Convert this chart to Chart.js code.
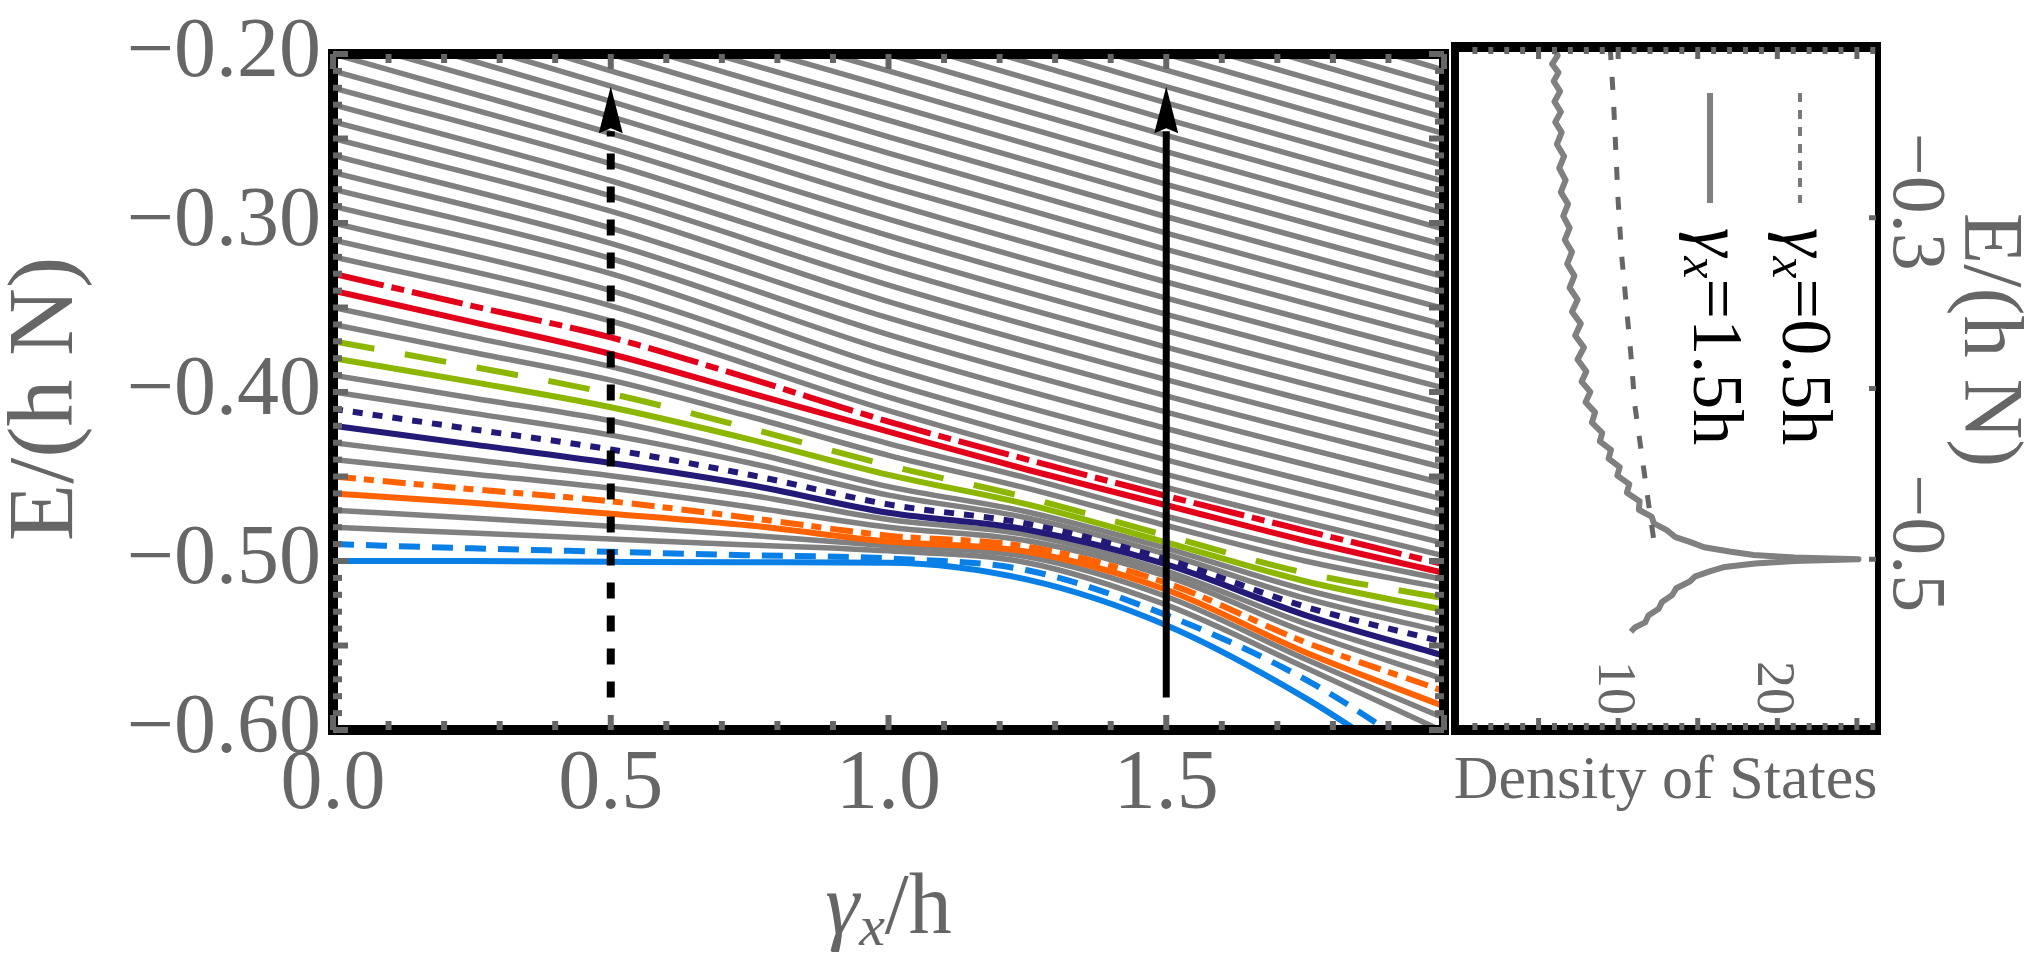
<!DOCTYPE html>
<html>
<head>
<meta charset="utf-8">
<script src="https://cdn.jsdelivr.net/npm/chart.js@4.4.1/dist/chart.umd.min.js"></script>
<style>
  html, body { margin: 0; padding: 0; background: #fff; }
  #wrap { position: relative; width: 2033px; height: 958px; }
  #wrap canvas { position: absolute; left: 0; top: 0; }
</style>
</head>
<body>
<div id="wrap">
  <canvas id="spectrum" width="2033" height="958"></canvas>
  <canvas id="dos" width="2033" height="958"></canvas>
</div>
<script>
// ---- data: spectrum E/(hN) vs gamma_x/h ----
const gammaFine = [0, 0.25, 0.5, 0.75, 1, 1.25, 1.5, 1.75, 2];
const gammaCoarse = [0, 0.5, 1, 1.5, 2];

// highlighted levels (on gammaFine)
const blueSolid     = [-0.500, -0.500, -0.5005, -0.5008, -0.501, -0.511, -0.538, -0.581, -0.635];
const blueDashed    = [-0.490, -0.4925, -0.4946, -0.4966, -0.4985, -0.5055, -0.532, -0.570, -0.622];
const orangeSolid   = [-0.460, -0.4655, -0.472, -0.479, -0.4885, -0.4945, -0.517, -0.554, -0.586];
const orangeDashDot = [-0.450, -0.4575, -0.4647, -0.4745, -0.485, -0.4915, -0.513, -0.548, -0.577];
const navySolid     = [-0.420, -0.431, -0.442, -0.455, -0.4715, -0.4815, -0.502, -0.532, -0.556];
const navyDotted    = [-0.410, -0.422, -0.434, -0.449, -0.4665, -0.478, -0.499, -0.527, -0.548];
const greenSolid    = [-0.380, -0.394, -0.409, -0.428, -0.449, -0.4665, -0.489, -0.512, -0.529];
const greenDashed   = [-0.370, -0.385, -0.401, -0.4215, -0.4435, -0.4625, -0.485, -0.507, -0.522];
const redSolid      = [-0.340, -0.3585, -0.3775, -0.4005, -0.4235, -0.446, -0.467, -0.488, -0.507];
const redDashDot    = [-0.330, -0.349, -0.3677, -0.392, -0.4175, -0.440, -0.4615, -0.482, -0.502];

// other low levels in grey (on gammaFine)
const grayLow = [
  [-0.480, -0.4835, -0.487, -0.4905, -0.494, -0.501, -0.526, -0.563, -0.601],
  [-0.470, -0.4745, -0.4795, -0.4848, -0.491, -0.4975, -0.521, -0.558, -0.593],
  [-0.440, -0.4485, -0.457, -0.468, -0.480, -0.488, -0.509, -0.542, -0.570],
  [-0.430, -0.440, -0.4495, -0.461, -0.4755, -0.4845, -0.506, -0.537, -0.563],
  [-0.400, -0.4125, -0.4255, -0.442, -0.461, -0.4745, -0.496, -0.522, -0.542],
  [-0.390, -0.4035, -0.417, -0.4355, -0.456, -0.471, -0.4925, -0.517, -0.536],
  [-0.360, -0.3765, -0.393, -0.4145, -0.4375, -0.457, -0.479, -0.500, -0.516],
  [-0.350, -0.3675, -0.385, -0.4075, -0.4305, -0.451, -0.4735, -0.494, -0.511]
];

// upper grey levels, one array per gamma of gammaCoarse
const upperG0 = [-0.32, -0.31, -0.30, -0.29, -0.28, -0.27, -0.26, -0.25, -0.24, -0.23, -0.22, -0.21, -0.20,
  -0.19, -0.18, -0.17, -0.16, -0.15, -0.14, -0.13, -0.12, -0.11, -0.10, -0.09, -0.08, -0.07, -0.06, -0.05,
  -0.04, -0.03, -0.02, -0.01, 0.00];
const upperG05 = [-0.358, -0.349, -0.340, -0.330, -0.321, -0.312, -0.303, -0.293, -0.284, -0.275, -0.265,
  -0.256, -0.247, -0.237, -0.228, -0.219, -0.210, -0.200, -0.191, -0.182, -0.172, -0.163, -0.154, -0.144,
  -0.135, -0.126, -0.117, -0.107, -0.098, -0.089, -0.079, -0.070, -0.061];
const upperG1 = [-0.411, -0.403, -0.3945, -0.3855, -0.3757, -0.366, -0.3562, -0.3465, -0.3367, -0.327, -0.3172,
  -0.3075, -0.2977, -0.288, -0.2782, -0.2685, -0.2587, -0.249, -0.2392, -0.2295, -0.2197, -0.21, -0.2002,
  -0.1905, -0.181, -0.171, -0.161, -0.151, -0.141, -0.131, -0.121, -0.111, -0.101];
const upperG15 = [-0.4565, -0.4487, -0.4402, -0.4312, -0.4216, -0.4119, -0.4023, -0.3927, -0.383, -0.3734,
  -0.3638, -0.3541, -0.3445, -0.3349, -0.3252, -0.3156, -0.306, -0.2963, -0.2867, -0.2771, -0.2674, -0.2578,
  -0.2482, -0.2385, -0.2289, -0.2193, -0.2096, -0.2, -0.190, -0.180, -0.171, -0.161, -0.151];
const upperG2 = [-0.497, -0.4895, -0.4815, -0.473, -0.4636, -0.4542, -0.4448, -0.4354, -0.426, -0.4165, -0.4071,
  -0.3977, -0.3883, -0.3789, -0.3695, -0.3601, -0.3507, -0.3413, -0.3318, -0.3224, -0.313, -0.3036, -0.2942,
  -0.2848, -0.2754, -0.266, -0.2566, -0.2471, -0.2377, -0.2283, -0.2189, -0.2095, -0.2001];

// arrows at gamma = 0.5 (dashed) and 1.5 (solid)
const arrowGammas = [0.5, 1.5];
const arrowFromE = -0.5807, arrowBaseE = -0.2445, arrowTipE = -0.2193;

// ---- data: density of states (E, DOS) ----
const dosE05 = [-0.200, -0.230, -0.260, -0.290, -0.320, -0.350, -0.380, -0.410, -0.440, -0.470, -0.4925];
const dos05  = [9.5, 9.7, 9.85, 10.0, 10.2, 10.5, 10.8, 11.05, 11.5, 11.95, 12.3];

const dosE15 = [-0.200, -0.205, -0.210, -0.215, -0.220, -0.226, -0.232, -0.238, -0.244, -0.250, -0.257, -0.264,
  -0.271, -0.278, -0.285, -0.292, -0.299, -0.306, -0.313, -0.320, -0.327, -0.334, -0.341, -0.348, -0.355,
  -0.362, -0.369, -0.376, -0.383, -0.390, -0.396, -0.402, -0.408, -0.414, -0.420, -0.426, -0.431, -0.436,
  -0.441, -0.446, -0.451, -0.456, -0.461, -0.466, -0.471, -0.475, -0.479, -0.483, -0.487, -0.490, -0.493,
  -0.4955, -0.4975, -0.499, -0.500, -0.501, -0.5025, -0.5045, -0.507, -0.510, -0.513, -0.517, -0.521,
  -0.525, -0.529, -0.533, -0.537, -0.540, -0.5425];
const dos15 = [5.90, 6.20, 5.85, 6.25, 5.95, 6.35, 6.00, 6.40, 6.05, 6.45, 6.15, 6.60, 6.30, 6.70, 6.40, 6.85,
  6.55, 6.95, 6.65, 7.10, 6.80, 7.25, 6.95, 7.45, 7.10, 7.65, 7.30, 7.85, 7.45, 8.00, 7.70, 8.25, 7.95, 8.55,
  8.35, 9.00, 8.85, 9.55, 9.40, 10.10, 9.95, 10.70, 10.55, 11.35, 11.30, 12.10, 12.25, 13.05, 13.60, 14.55,
  15.40, 17.00, 18.50, 21.10, 25.10, 21.10, 18.60, 16.70, 15.80, 14.85, 14.50, 13.65, 13.40, 12.75, 12.55,
  11.90, 11.70, 11.05, 10.80];

const dosTickLabels = [10, 20];
const dosEnergyLabels = [-0.3, -0.5];

// ---- styles ----
const SERIF = '"Liberation Serif", "Times New Roman", serif';
const GREY_TEXT = '#666666';
const highlights = [
  { values: redDashDot,    color: '#e2001a', dash: [52, 8, 13, 8] },
  { values: redSolid,      color: '#e2001a', dash: [] },
  { values: greenDashed,   color: '#8db600', dash: [42, 31] },
  { values: greenSolid,    color: '#8db600', dash: [] },
  { values: navyDotted,    color: '#231a78', dash: [10, 10] },
  { values: navySolid,     color: '#231a78', dash: [] },
  { values: orangeDashDot, color: '#ff6200', dash: [23, 8, 10, 9] },
  { values: orangeSolid,   color: '#ff6200', dash: [] },
  { values: blueDashed,    color: '#0a80e6', dash: [21, 12] },
  { values: blueSolid,     color: '#0a80e6', dash: [] }
];

function series(xs, ys) {
  return xs.map((g, i) => ({ x: g, y: ys[i] }));
}

function lineSet(data, color, dash, width, order) {
  return {
    data: data,
    borderColor: color,
    borderDash: dash,
    borderWidth: width,
    borderCapStyle: 'butt',
    pointRadius: 0,
    fill: false,
    cubicInterpolationMode: 'monotone',
    order: order
  };
}

const spectrumSets = [];
highlights.forEach(h => spectrumSets.push(lineSet(series(gammaFine, h.values), h.color, h.dash, 6, 0)));
grayLow.forEach(v => spectrumSets.push(lineSet(series(gammaFine, v), '#808080', [], 5.5, 1)));
upperG0.forEach((_, k) => {
  const ys = [upperG0[k], upperG05[k], upperG1[k], upperG15[k], upperG2[k]];
  spectrumSets.push(lineSet(series(gammaCoarse, ys), '#808080', [], 5.5, 1));
});

function strokeLine(ctx, x1, y1, x2, y2) {
  ctx.beginPath();
  ctx.moveTo(x1, y1);
  ctx.lineTo(x2, y2);
  ctx.stroke();
}

// draws text made of several styled pieces along the current x direction
function drawPieces(ctx, pieces, x, y, align) {
  let total = 0;
  pieces.forEach(p => { ctx.font = p.font; total += ctx.measureText(p.text).width; });
  let cx = align === 'center' ? x - total / 2 : x;
  ctx.textAlign = 'left';
  pieces.forEach(p => {
    ctx.font = p.font;
    ctx.fillText(p.text, cx, y + (p.dy || 0));
    cx += ctx.measureText(p.text).width;
  });
}

function drawArrow(ctx, px, yFrom, yBase, yTip, width, dash) {
  ctx.strokeStyle = '#000';
  ctx.lineWidth = width;
  ctx.setLineDash(dash);
  strokeLine(ctx, px, yFrom, px, yBase + 2);
  ctx.setLineDash([]);
  ctx.fillStyle = '#000';
  ctx.beginPath();
  ctx.moveTo(px, yTip);
  ctx.lineTo(px - 12, yBase + 4);
  ctx.lineTo(px, yBase - 1);
  ctx.lineTo(px + 12, yBase + 4);
  ctx.closePath();
  ctx.fill();
}

const spectrumDecor = {
  id: 'spectrumDecor',
  afterDatasetsDraw(chart) {
    const { ctx, chartArea: a, scales: { x, y } } = chart;
    ctx.save();
    // frame
    ctx.strokeStyle = '#000';
    ctx.lineWidth = 10;
    ctx.strokeRect(a.left, a.top, a.right - a.left, a.bottom - a.top);
    // inward ticks
    ctx.strokeStyle = '#666';
    ctx.lineWidth = 6;
    for (let i = 0; i <= 20; i++) {
      const px = x.getPixelForValue(i / 10);
      const len = i % 5 === 0 ? 15 : 9;
      strokeLine(ctx, px, a.top, px, a.top + len);
      strokeLine(ctx, px, a.bottom, px, a.bottom - len);
    }
    for (let i = 20; i <= 60; i++) {
      const py = y.getPixelForValue(-i / 100);
      const len = i % 5 === 0 ? 15 : 9;
      strokeLine(ctx, a.left, py, a.left + len, py);
      strokeLine(ctx, a.right, py, a.right - len, py);
    }
    // arrows
    arrowGammas.forEach((g, i) => {
      const px = x.getPixelForValue(g);
      drawArrow(ctx, px, y.getPixelForValue(arrowFromE), y.getPixelForValue(arrowBaseE),
        y.getPixelForValue(arrowTipE), i === 0 ? 8 : 7, i === 0 ? [16, 17] : []);
    });
    ctx.restore();
  },
  afterDraw(chart) {
    const { ctx, chartArea: a } = chart;
    ctx.save();
    ctx.fillStyle = GREY_TEXT;
    ctx.textBaseline = 'alphabetic';
    // x title
    drawPieces(ctx, [
      { text: 'γ', font: 'italic 86px ' + SERIF },
      { text: 'x', font: 'italic 58px ' + SERIF, dy: 12 },
      { text: '/h', font: '86px ' + SERIF }
    ], (a.left + a.right) / 2, a.bottom + 203, 'center');
    // y title
    ctx.translate(a.left - 261, (a.top + a.bottom) / 2 + 7);
    ctx.rotate(-Math.PI / 2);
    ctx.font = '94px ' + SERIF;
    ctx.textAlign = 'center';
    ctx.fillText('E/(h N)', 0, 0);
    ctx.restore();
  }
};

new Chart(document.getElementById('spectrum'), {
  type: 'line',
  data: { datasets: spectrumSets },
  options: {
    responsive: false,
    animation: false,
    events: [],
    layout: { padding: { left: 0, top: 47, right: 589, bottom: 0 } },
    plugins: { legend: { display: false }, tooltip: { enabled: false } },
    scales: {
      x: {
        type: 'linear',
        min: 0,
        max: 2,
        afterFit: s => { s.height = 228; },
        grid: { display: false, drawTicks: false },
        border: { display: false },
        ticks: {
          stepSize: 0.5,
          padding: 14,
          color: GREY_TEXT,
          font: { family: SERIF, size: 84, lineHeight: 1 },
          callback: v => (v < 1.99 ? v.toFixed(1) : '')
        }
      },
      y: {
        type: 'linear',
        min: -0.6,
        max: -0.2,
        afterFit: s => { s.width = 333; },
        grid: { display: false, drawTicks: false },
        border: { display: false },
        ticks: {
          stepSize: 0.1,
          padding: 12,
          color: GREY_TEXT,
          font: { family: SERIF, size: 84, lineHeight: 1 },
          callback: v => '\u2212' + Math.abs(v).toFixed(2)
        }
      }
    }
  },
  plugins: [spectrumDecor]
});

// ---- density of states panel ----
const dosDecor = {
  id: 'dosDecor',
  afterDatasetsDraw(chart) {
    const { ctx, chartArea: a, scales: { x, y } } = chart;
    ctx.save();
    // frame
    ctx.fillStyle = '#000';
    ctx.fillRect(a.left - 4, a.top - 5, a.right - a.left + 9, 10);
    ctx.fillRect(a.left - 4, a.bottom - 5, a.right - a.left + 9, 10);
    ctx.fillRect(a.left - 4, a.top - 5, 8, a.bottom - a.top + 10);
    ctx.fillRect(a.right - 1, a.top - 5, 6, a.bottom - a.top + 10);
    // ticks along top and bottom
    ctx.strokeStyle = '#666';
    ctx.lineWidth = 5;
    for (let d = 1; d <= 26; d++) {
      const px = x.getPixelForValue(d);
      const len = d % 5 === 0 ? 12 : 7;
      strokeLine(ctx, px, a.top, px, a.top + len);
      strokeLine(ctx, px, a.bottom, px, a.bottom - len);
    }
    for (let i = 3; i <= 5; i++) {
      const py = y.getPixelForValue(-i / 10);
      strokeLine(ctx, a.right, py, a.right - 7, py);
    }
    // rotated tick labels
    ctx.fillStyle = GREY_TEXT;
    ctx.textBaseline = 'alphabetic';
    ctx.textAlign = 'center';
    dosTickLabels.forEach(v => {
      ctx.save();
      ctx.translate(x.getPixelForValue(v) - 19, a.bottom - 42);
      ctx.rotate(Math.PI / 2);
      ctx.font = '54px ' + SERIF;
      ctx.fillText(String(v), 0, 0);
      ctx.restore();
    });
    dosEnergyLabels.forEach(v => {
      ctx.save();
      ctx.translate(a.right + 18, y.getPixelForValue(v) - 16);
      ctx.rotate(Math.PI / 2);
      ctx.font = '76px ' + SERIF;
      ctx.fillText('\u2212' + Math.abs(v).toFixed(1), 0, 0);
      ctx.restore();
    });
    // right axis title
    ctx.save();
    ctx.translate(a.right + 89, 340);
    ctx.rotate(Math.PI / 2);
    ctx.font = '84px ' + SERIF;
    ctx.fillText('E/(h N)', 0, 0);
    ctx.restore();
    // bottom title
    ctx.font = '62px ' + SERIF;
    ctx.fillText('Density of States', (a.left + a.right) / 2, a.bottom + 68);
    // legend (rotated)
    const legend = [
      { value: '0.5', lineX: a.left + 345, textX: a.left + 328, dash: [9, 8], color: '#7a7a7a', width: 4 },
      { value: '1.5', lineX: a.left + 255, textX: a.left + 239, dash: [], color: '#808080', width: 6 }
    ];
    legend.forEach(l => {
      ctx.strokeStyle = l.color;
      ctx.lineWidth = l.width;
      ctx.setLineDash(l.dash);
      strokeLine(ctx, l.lineX, a.top + 46, l.lineX, a.top + 156);
      ctx.setLineDash([]);
      ctx.save();
      ctx.translate(l.textX, a.top + 181);
      ctx.rotate(Math.PI / 2);
      ctx.fillStyle = '#000';
      drawPieces(ctx, [
        { text: 'γ', font: 'italic 72px ' + SERIF },
        { text: 'x', font: 'italic 50px ' + SERIF, dy: 10 },
        { text: '=' + l.value + 'h', font: '72px ' + SERIF }
      ], 0, 0, 'left');
      ctx.restore();
    });
    ctx.restore();
  }
};

new Chart(document.getElementById('dos'), {
  type: 'line',
  data: {
    datasets: [
      {
        data: dosE05.map((e, i) => ({ x: dos05[i], y: e })),
        borderColor: '#666666', borderWidth: 5, borderDash: [13, 17], borderCapStyle: 'butt',
        pointRadius: 0, fill: false, tension: 0
      },
      {
        data: dosE15.map((e, i) => ({ x: dos15[i], y: e })),
        borderColor: '#808080', borderWidth: 6, borderJoinStyle: 'round',
        pointRadius: 0, fill: false, tension: 0
      }
    ]
  },
  options: {
    responsive: false,
    animation: false,
    events: [],
    layout: { padding: { left: 1455, top: 47, right: 157, bottom: 228 } },
    plugins: { legend: { display: false }, tooltip: { enabled: false } },
    scales: {
      x: { type: 'linear', min: -0.25, max: 26.2, display: false },
      y: { type: 'linear', min: -0.6, max: -0.2, display: false }
    }
  },
  plugins: [dosDecor]
});
</script>
</body>
</html>
